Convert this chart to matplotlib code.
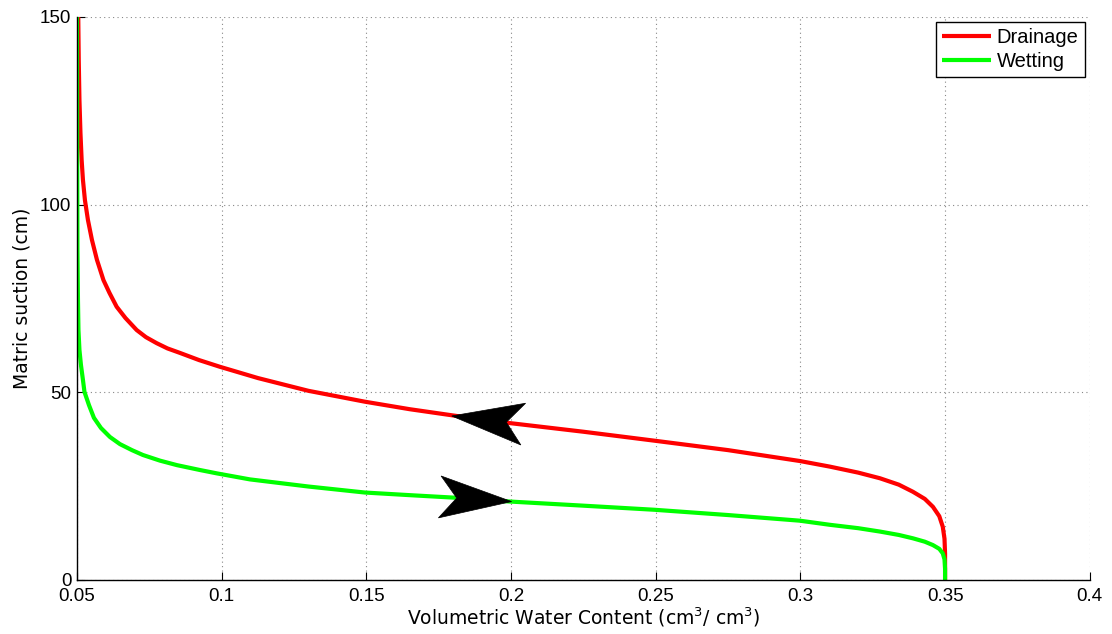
import numpy as np
import matplotlib
matplotlib.use("Agg")
import matplotlib.pyplot as plt
from matplotlib.patches import Polygon
from matplotlib.transforms import IdentityTransform

# Drainage curve (red)
drain_theta = [0.05045, 0.05062, 0.05086, 0.05121, 0.05162, 0.05207, 0.05276, 0.05380,
               0.05518, 0.05691, 0.05916, 0.06123, 0.06372, 0.06676, 0.07063, 0.07384,
               0.07754, 0.08127, 0.08559, 0.09216, 0.09941, 0.10598, 0.11254, 0.1300,
               0.1495, 0.1650, 0.1812, 0.1985, 0.2250, 0.2497, 0.2750, 0.2998,
               0.3102, 0.3200, 0.3275, 0.3340, 0.3389, 0.3430, 0.3458, 0.3480,
               0.3492, 0.3498, 0.3500, 0.3500]
drain_h = [150.0, 138.5, 127.9, 119.1, 111.9, 106.6, 101.2, 95.9,
           90.6, 85.3, 79.9, 76.5, 72.8, 69.8, 66.6, 64.7,
           63.1, 61.7, 60.5, 58.6, 56.8, 55.3, 53.8, 50.4,
           47.5, 45.5, 43.7, 41.9, 39.5, 37.1, 34.6, 31.7,
           30.2, 28.6, 27.1, 25.4, 23.5, 21.6, 19.5, 17.0,
           14.2, 11.0, 7.0, 0.0]

# Wetting curve (green)
wet_theta = [0.05000, 0.05007, 0.05017, 0.05035, 0.05052, 0.05086, 0.05138, 0.05207,
             0.05260, 0.05415, 0.05587, 0.05829, 0.06140, 0.06486, 0.06900, 0.07280,
             0.07868, 0.08455, 0.09250, 0.09838, 0.10978, 0.1300, 0.1495, 0.1650,
             0.1812, 0.1996, 0.2250, 0.2497, 0.2750, 0.2998, 0.3102, 0.3200,
             0.3275, 0.3340, 0.3389, 0.3430, 0.3458, 0.3480, 0.3492, 0.3498,
             0.3500, 0.3500]
wet_h = [150.0, 114.6, 88.0, 74.6, 66.6, 61.3, 57.3, 53.3,
         50.1, 46.6, 43.2, 40.5, 38.1, 36.2, 34.6, 33.3,
         31.8, 30.6, 29.3, 28.4, 26.8, 24.9, 23.3, 22.6,
         21.9, 20.9, 19.8, 18.7, 17.3, 15.8, 14.7, 13.8,
         12.9, 12.0, 11.1, 10.2, 9.3, 8.3, 7.1, 5.5,
         3.0, 0.0]

x_ticks = [0.05, 0.1, 0.15, 0.2, 0.25, 0.3, 0.35, 0.4]
x_tick_labels = ["0.05", "0.1", "0.15", "0.2", "0.25", "0.3", "0.35", "0.4"]
y_ticks = [0, 50, 100, 150]

# Arrow annotations (tail, tip) in data coordinates
drain_arrow = ((0.2, 41.9), (0.1795, 43.7))
wet_arrow = ((0.18, 21.9), (0.2002, 20.9))

plt.rcParams['font.family'] = ['Liberation Sans', 'DejaVu Sans']

fig = plt.figure(figsize=(11.12, 6.34), dpi=100)
ax = fig.add_axes([0.0692, 0.0852, 0.9108, 0.888])

ax.plot(drain_theta, drain_h, color=(1, 0, 0), lw=3, label="Drainage", solid_capstyle='butt')
ax.plot(wet_theta, wet_h, color=(0, 1, 0), lw=3, label="Wetting", solid_capstyle='butt')

ax.set_xlim(0.05, 0.4)
ax.set_ylim(0, 150)
ax.set_xticks(x_ticks)
ax.set_xticklabels(x_tick_labels)
ax.set_yticks(y_ticks)
ax.tick_params(direction='in', length=6, width=0.8, labelsize=13.5,
               top=False, right=False)
ax.tick_params(axis='x', pad=6)
ax.tick_params(axis='y', pad=4)
for s in ['top', 'right']:
    ax.spines[s].set_visible(False)
for s in ['left', 'bottom']:
    ax.spines[s].set_linewidth(1.0)
ax.grid(True, linestyle=(0, (1, 3)), color='#888888', linewidth=0.8)
ax.set_axisbelow(True)

ax.set_xlabel(r"Volumetric Water Content (cm$^3$/ cm$^3$)", fontsize=13.5,
              family='DejaVu Sans', labelpad=0)
ax.set_ylabel("Matric suction (cm)", fontsize=13.5, family='DejaVu Sans', labelpad=6)

leg = ax.legend(loc='upper right', fontsize=14.5, frameon=True, fancybox=False,
                handlelength=2.4, handletextpad=0.3, borderpad=0.3,
                labelspacing=0.25, borderaxespad=0.25)
leg.get_frame().set_edgecolor('black')
leg.get_frame().set_linewidth(1.0)
leg.get_frame().set_alpha(1)


def draw_head(tail, tip, length=72, half_w=21, notch=55):
    t = ax.transData.transform(tail)
    p = ax.transData.transform(tip)
    d = p - t
    u = d / np.hypot(*d)
    n = np.array([-u[1], u[0]])
    verts = [p,
             p - length * u + half_w * n,
             p - notch * u,
             p - length * u - half_w * n]
    ax.add_patch(Polygon(verts, closed=True, facecolor='black', edgecolor='black',
                         lw=0.5, transform=IdentityTransform(), zorder=5))


draw_head(*drain_arrow)
draw_head(*wet_arrow)

fig.savefig("out.png", dpi=100)
